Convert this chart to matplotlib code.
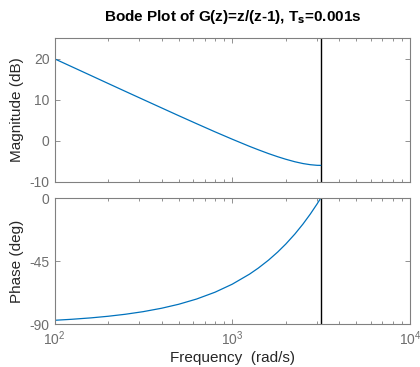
import matplotlib
matplotlib.use("Agg")
import matplotlib.pyplot as plt
from matplotlib.ticker import LogLocator, NullFormatter, FixedLocator

plt.rcParams['font.family'] = ['Liberation Sans', 'DejaVu Sans']

# Frequency points (rad/s)
freq = [100, 125, 160, 200, 250, 315, 400, 500, 630, 800, 1000, 1250, 1400,
        1600, 1800, 2000, 2250, 2500, 2750, 3000, 3141.6]
mag_db = [20.00, 18.07, 15.93, 13.99, 12.06, 10.07, 8.02, 6.11, 4.16, 2.17,
          0.37, -1.37, -2.20, -3.14, -3.90, -4.52, -5.13, -5.57, -5.85, -6.00,
          -6.02]
phase_deg = [-87.14, -86.42, -85.42, -84.27, -82.84, -80.98, -78.54, -75.68,
             -71.95, -67.08, -61.35, -54.19, -49.89, -44.16, -38.43, -32.70,
             -25.54, -18.38, -11.22, -4.06, 0.0]
nyquist = 3141.6

mag_ticks = [-10, 0, 10, 20]
phase_ticks = [-90, -45, 0]

line_col = '#0072BD'
ax_col = '#808080'
lab_col = '#6e6e6e'

fig = plt.figure(figsize=(4.2, 3.67), dpi=100)
W, H = 420, 367
l, r = 54.5, 410
ax1 = fig.add_axes([l / W, 1 - 181.7 / H, (r - l) / W, (181.7 - 38.3) / H])
ax2 = fig.add_axes([l / W, 1 - 324.3 / H, (r - l) / W, (324.3 - 198.3) / H])

for ax in (ax1, ax2):
    ax.set_xscale('log')
    ax.set_xlim(100, 10000)
    ax.axvline(nyquist, color='black', lw=1.0)
    for s in ax.spines.values():
        s.set_color(ax_col)
        s.set_linewidth(0.8)
    ax.tick_params(which='both', direction='in', top=True, right=True,
                   colors=ax_col, labelcolor=lab_col, labelsize=10)
    ax.tick_params(which='major', length=3.5, width=0.6)
    ax.tick_params(which='minor', length=2, width=0.6)
    ax.xaxis.set_major_locator(LogLocator(base=10, numticks=10))
    ax.xaxis.set_minor_locator(LogLocator(base=10, subs=range(2, 10), numticks=20))
    ax.xaxis.set_minor_formatter(NullFormatter())

ax1.plot(freq, mag_db, color=line_col, lw=0.9)
ax1.set_ylim(-10, 25)
ax1.yaxis.set_major_locator(FixedLocator(mag_ticks))
ax1.set_yticklabels([str(t) for t in mag_ticks])
ax1.tick_params(axis='x', labelbottom=False)
ax1.set_ylabel('Magnitude (dB)', fontsize=11, color='#262626', labelpad=4)

ax2.plot(freq, phase_deg, color=line_col, lw=0.9)
ax2.set_ylim(-90, 0)
ax2.yaxis.set_major_locator(FixedLocator(phase_ticks))
ax2.set_yticklabels([str(t) for t in phase_ticks])
ax2.set_ylabel('Phase (deg)', fontsize=11, color='#262626', labelpad=4)
ax2.set_xlabel('Frequency  (rad/s)', fontsize=11, color='#262626', labelpad=2)

fig.text((l + r) / 2 / W, 1 - 17 / H, 'Bode Plot of G(z)=z/(z-1), T$_\\mathbf{s}$=0.001s',
         ha='center', va='center', fontsize=11, fontweight='bold')

fig.savefig('out.png', dpi=100)
